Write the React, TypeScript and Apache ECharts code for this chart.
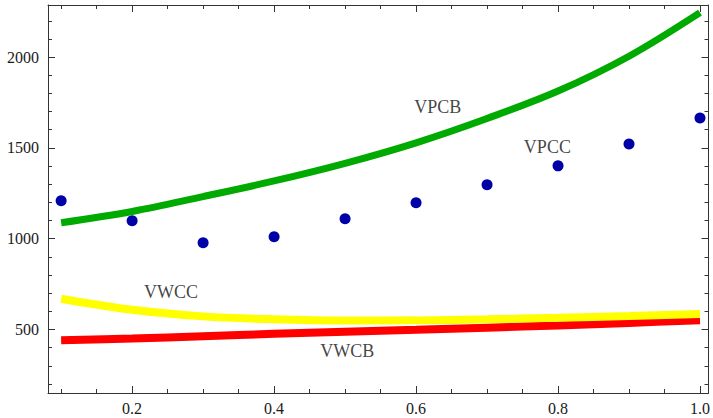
import React, { useEffect, useRef } from "react";
import * as echarts from "echarts";

const xValues = [0.1, 0.2, 0.3, 0.4, 0.5, 0.6, 0.7, 0.8, 0.9, 1.0];
const vpcb = [1088, 1150, 1232, 1318, 1415, 1528, 1662, 1813, 2005, 2245];
const vpcc = [1209, 1099, 978, 1011, 1110, 1198, 1297, 1401, 1522, 1665];
const vwcc = [669, 608, 572, 556, 549, 550, 556, 564, 574, 585];
const vwcb = [441, 450, 463, 476, 487, 498, 510, 522, 536, 551];

const xMajorTicks = [0.2, 0.4, 0.6, 0.8, 1.0];
const xMinorTicks = [0.1, 0.15, 0.25, 0.3, 0.35, 0.45, 0.5, 0.55, 0.65, 0.7, 0.75, 0.85, 0.9, 0.95];
const yMajorTicks = [500, 1000, 1500, 2000];
const yMinorTicks = [200, 300, 400, 600, 700, 800, 900, 1100, 1200, 1300, 1400, 1600, 1700, 1800, 1900, 2100, 2200];

const labelNames = ["VPCB", "VPCC", "VWCC", "VWCB"];
const labelX = [0.6306, 0.785, 0.2547, 0.503];
const labelY = [1725, 1505, 706, 379];

const X_MIN = 0.0815;
const X_MAX = 1.012;
const Y_MIN = 150;
const Y_MAX = 2287;

const FONT = "'Liberation Serif', 'Times New Roman', serif";
const FRAME = "#333333";

function pair(vals: number[]) {
  return xValues.map((x, i) => [x, vals[i]]);
}

export default function App() {
  const ref = useRef<HTMLDivElement>(null);
  useEffect(() => {
    if (!ref.current) return;
    const chart = echarts.init(ref.current, null, { renderer: "svg" });

    const xAxisBase = (position: "bottom" | "top", ticks: number[], len: number, showLine: boolean, labels: boolean) => ({
      type: "value" as const,
      position,
      min: X_MIN,
      max: X_MAX,
      axisLine: { show: showLine, onZero: false, lineStyle: { color: FRAME, width: 1 } },
      axisTick: { show: true, inside: true, length: len, customValues: ticks, lineStyle: { color: FRAME, width: 1 } },
      axisLabel: labels
        ? {
            show: true,
            customValues: xMajorTicks,
            formatter: (v: number) => v.toFixed(1),
            fontFamily: FONT,
            fontSize: 16,
            color: "#1a1a1a",
            margin: 7,
          }
        : { show: false },
      splitLine: { show: false },
    });
    const yAxisBase = (position: "left" | "right", ticks: number[], len: number, showLine: boolean, labels: boolean) => ({
      type: "value" as const,
      position,
      min: Y_MIN,
      max: Y_MAX,
      axisLine: { show: showLine, onZero: false, lineStyle: { color: FRAME, width: 1 } },
      axisTick: { show: true, inside: true, length: len, customValues: ticks, lineStyle: { color: FRAME, width: 1 } },
      axisLabel: labels
        ? {
            show: true,
            customValues: yMajorTicks,
            formatter: (v: number) => String(v),
            fontFamily: FONT,
            fontSize: 16,
            color: "#1a1a1a",
            margin: 9,
          }
        : { show: false },
      splitLine: { show: false },
    });

    chart.setOption({
      animation: false,
      backgroundColor: "#ffffff",
      grid: { left: 48, right: 2, top: 5, bottom: 25, containLabel: false },
      xAxis: [
        xAxisBase("bottom", xMajorTicks, 7, true, true),
        xAxisBase("bottom", xMinorTicks, 4, false, false),
        xAxisBase("top", xMajorTicks, 7, true, false),
        xAxisBase("top", xMinorTicks, 4, false, false),
      ],
      yAxis: [
        yAxisBase("left", yMajorTicks, 7, true, true),
        yAxisBase("left", yMinorTicks, 4, false, false),
        yAxisBase("right", yMajorTicks, 7, true, false),
        yAxisBase("right", yMinorTicks, 4, false, false),
      ],
      series: [
        {
          name: "VPCB",
          type: "line",
          data: pair(vpcb),
          smooth: 0.35,
          showSymbol: false,
          lineStyle: { color: "#00aa00", width: 7 },
        },
        {
          name: "VWCB",
          type: "line",
          data: pair(vwcb),
          smooth: 0.35,
          showSymbol: false,
          lineStyle: { color: "#ff0000", width: 8 },
        },
        {
          name: "VWCC",
          type: "line",
          data: pair(vwcc),
          smooth: 0.35,
          showSymbol: false,
          lineStyle: { color: "#ffff00", width: 8 },
        },
        {
          name: "VPCC",
          type: "scatter",
          data: pair(vpcc),
          symbol: "circle",
          symbolSize: 11,
          itemStyle: { color: "#0000a8", opacity: 1 },
        },
        {
          name: "labels",
          type: "scatter",
          data: labelNames.map((n, i) => ({ value: [labelX[i], labelY[i]], name: n })),
          symbolSize: 0,
          silent: true,
          label: {
            show: true,
            position: "inside",
            formatter: (p: any) => p.name,
            fontFamily: FONT,
            fontSize: 18,
            color: "#111111",
          },
        },
      ],
    });
    return () => chart.dispose();
  }, []);
  return <div ref={ref} style={{ width: 713, height: 418, position: "absolute", left: 0, top: 0 }} />;
}
